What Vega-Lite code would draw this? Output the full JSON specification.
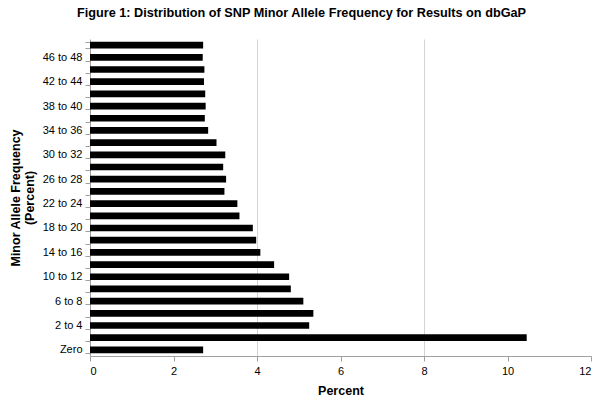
{
  "$schema": "https://vega.github.io/schema/vega-lite/v6.json",
  "autosize": "none",
  "width": 501,
  "height": 317,
  "padding": {"left": 90, "top": 39, "right": 9, "bottom": 45},
  "background": "white",
  "title": {
    "text": "Figure 1: Distribution of SNP Minor Allele Frequency for Results on dbGaP",
    "font": "Liberation Sans",
    "fontSize": 12.7,
    "fontWeight": "bold",
    "color": "#000000",
    "anchor": "middle",
    "dx": -39,
    "offset": 13
  },
  "data": {
    "values": [
      {"maf": "48 to 50", "percent": 2.71},
      {"maf": "46 to 48", "percent": 2.70},
      {"maf": "44 to 46", "percent": 2.74},
      {"maf": "42 to 44", "percent": 2.73},
      {"maf": "40 to 42", "percent": 2.76},
      {"maf": "38 to 40", "percent": 2.77},
      {"maf": "36 to 38", "percent": 2.75},
      {"maf": "34 to 36", "percent": 2.83},
      {"maf": "32 to 34", "percent": 3.03},
      {"maf": "30 to 32", "percent": 3.24},
      {"maf": "28 to 30", "percent": 3.19},
      {"maf": "26 to 28", "percent": 3.26},
      {"maf": "24 to 26", "percent": 3.22},
      {"maf": "22 to 24", "percent": 3.53},
      {"maf": "20 to 22", "percent": 3.58},
      {"maf": "18 to 20", "percent": 3.90},
      {"maf": "16 to 18", "percent": 3.98},
      {"maf": "14 to 16", "percent": 4.08},
      {"maf": "12 to 14", "percent": 4.41},
      {"maf": "10 to 12", "percent": 4.77},
      {"maf": "8 to 10", "percent": 4.81},
      {"maf": "6 to 8", "percent": 5.11},
      {"maf": "4 to 6", "percent": 5.35},
      {"maf": "2 to 4", "percent": 5.25},
      {"maf": "0 to 2", "percent": 10.46},
      {"maf": "Zero", "percent": 2.71}
    ]
  },
  "mark": {"type": "bar", "color": "#000000"},
  "encoding": {
    "y": {
      "field": "maf",
      "type": "nominal",
      "sort": null,
      "scale": {"paddingInner": 0.45, "paddingOuter": 0.225},
      "axis": {
        "title": ["Minor Allele Frequency", "(Percent)"],
        "titleFont": "Liberation Sans",
        "titleFontSize": 12.5,
        "titleFontWeight": "bold",
        "titleColor": "#000000",
        "titleLineHeight": 14,
        "titlePadding": 6,
        "labelFont": "Liberation Sans",
        "labelFontSize": 11,
        "labelColor": "#000000",
        "labelPadding": 3,
        "labelExpr": "datum.value == 'Zero' || parseInt(datum.value) % 4 == 2 ? datum.value : ''",
        "tickBand": "extent",
        "tickSize": 5,
        "tickColor": "#a0a0a0",
        "domainColor": "#a0a0a0",
        "grid": false
      }
    },
    "x": {
      "field": "percent",
      "type": "quantitative",
      "scale": {"domain": [0, 12], "nice": false},
      "axis": {
        "title": "Percent",
        "titleFont": "Liberation Sans",
        "titleFontSize": 12.5,
        "titleFontWeight": "bold",
        "titleColor": "#000000",
        "titlePadding": 8,
        "values": [0, 2, 4, 6, 8, 10, 12],
        "labelFont": "Liberation Sans",
        "labelFontSize": 11,
        "labelColor": "#000000",
        "labelPadding": 4,
        "tickSize": 5,
        "tickColor": "#a0a0a0",
        "domainColor": "#a0a0a0",
        "grid": true,
        "gridColor": {"condition": {"test": "datum.value === 4 || datum.value === 8", "value": "#d4d4d4"}, "value": "transparent"}
      }
    }
  },
  "config": {"view": {"stroke": null}}
}
